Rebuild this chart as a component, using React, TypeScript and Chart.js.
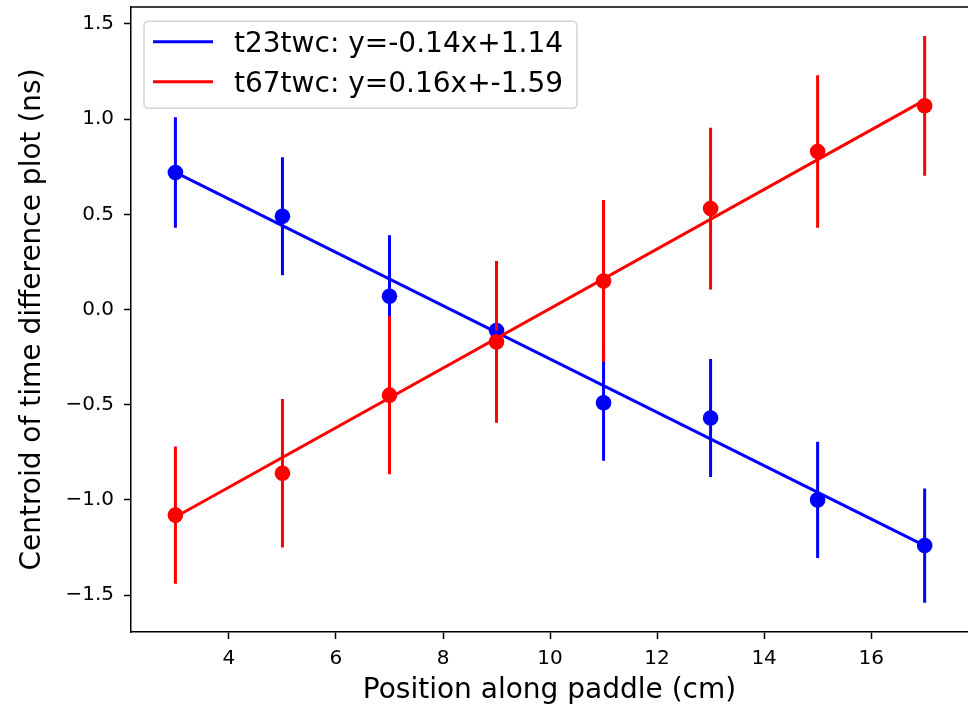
import { useEffect, useRef } from "react";
import { Chart, registerables } from "chart.js";

Chart.register(...registerables);

// ---- data ----
const positions = [3, 5, 7, 9, 11, 13, 15, 17];
const t23Centroid = [0.72, 0.49, 0.07, -0.11, -0.49, -0.57, -1.0, -1.24];
const t23Error = [0.29, 0.31, 0.32, 0.31, 0.305, 0.31, 0.305, 0.3];
const t67Centroid = [-1.08, -0.86, -0.45, -0.17, 0.15, 0.53, 0.83, 1.07];
const t67Error = [0.36, 0.39, 0.415, 0.425, 0.425, 0.425, 0.4, 0.367];
const fitX = [3, 17];
const t23Fit = [0.72, -1.24];
const t67Fit = [-1.09, 1.1];
const t23Label = "t23twc: y=-0.14x+1.14";
const t67Label = "t67twc: y=0.16x+-1.59";
const xTicks = [4, 6, 8, 10, 12, 14, 16];
const yTicks = [-1.5, -1.0, -0.5, 0.0, 0.5, 1.0, 1.5];
const xTitle = "Position along paddle (cm)";
const yTitle = "Centroid of time difference plot (ns)";

const BLUE = "#0000ff";
const RED = "#ff0000";
const FONT = "'DejaVu Sans', sans-serif";

const errorBarPlugin = {
  id: "errorBars",
  beforeDatasetDraw(chart: any, args: any) {
    const ds = chart.data.datasets[args.index];
    if (!ds.errors) return;
    const { ctx, chartArea, scales } = chart;
    const x = scales.x;
    const y = scales.y;
    ctx.save();
    ctx.beginPath();
    ctx.rect(chartArea.left, chartArea.top, chartArea.right - chartArea.left, chartArea.bottom - chartArea.top);
    ctx.clip();
    ctx.beginPath();
    ctx.strokeStyle = ds.backgroundColor;
    ctx.lineWidth = 3;
    ctx.lineCap = "butt";
    ds.data.forEach((p: any, i: number) => {
      const px = x.getPixelForValue(p.x);
      ctx.moveTo(px, y.getPixelForValue(p.y + ds.errors[i]));
      ctx.lineTo(px, y.getPixelForValue(p.y - ds.errors[i]));
    });
    ctx.stroke();
    ctx.restore();
  },
};

const framePlugin = {
  id: "frame",
  afterDraw(chart: any) {
    const { ctx, chartArea } = chart;
    ctx.save();
    ctx.strokeStyle = "#000";
    ctx.lineWidth = 1.5;
    ctx.beginPath();
    ctx.moveTo(chartArea.left - 0.75, chartArea.top);
    ctx.lineTo(chartArea.right + 2, chartArea.top);
    ctx.stroke();
    ctx.restore();
  },
};

const legendPlugin = {
  id: "mplLegend",
  afterDraw(chart: any) {
    const { ctx, chartArea } = chart;
    const entries = chart.data.datasets
      .filter((d: any) => d.legendIndex !== undefined)
      .sort((a: any, b: any) => a.legendIndex - b.legendIndex);
    const left = chartArea.left + 13;
    const top = chartArea.top + 14.3;
    const w = 433;
    const h = 87;
    const r = 5;
    ctx.save();
    ctx.beginPath();
    ctx.moveTo(left + r, top);
    ctx.lineTo(left + w - r, top);
    ctx.quadraticCurveTo(left + w, top, left + w, top + r);
    ctx.lineTo(left + w, top + h - r);
    ctx.quadraticCurveTo(left + w, top + h, left + w - r, top + h);
    ctx.lineTo(left + r, top + h);
    ctx.quadraticCurveTo(left, top + h, left, top + h - r);
    ctx.lineTo(left, top + r);
    ctx.quadraticCurveTo(left, top, left + r, top);
    ctx.closePath();
    ctx.fillStyle = "rgba(255,255,255,0.8)";
    ctx.fill();
    ctx.strokeStyle = "#d4d4d4";
    ctx.lineWidth = 1.5;
    ctx.stroke();
    entries.forEach((d: any, i: number) => {
      const cy = top + 20.5 + i * 40;
      ctx.beginPath();
      ctx.strokeStyle = d.borderColor;
      ctx.lineWidth = 3;
      ctx.moveTo(left + 9, cy);
      ctx.lineTo(left + 69, cy);
      ctx.stroke();
      ctx.fillStyle = "#000";
      ctx.font = `28px ${FONT}`;
      ctx.textAlign = "left";
      ctx.textBaseline = "alphabetic";
      ctx.fillText(d.label, left + 90, cy + 10.5);
    });
    ctx.restore();
  },
};

const fmtMinus = (s: string) => s.replace("-", "\u2212");

const zeroPad = (s: any) => {
  s.paddingTop = 0;
  s.paddingBottom = 0;
  s.paddingLeft = 0;
  s.paddingRight = 0;
};

export default function App() {
  const ref = useRef<HTMLCanvasElement | null>(null);

  useEffect(() => {
    if (!ref.current) return;
    const chart = new Chart(ref.current, {
      type: "scatter",
      data: {
        datasets: [
          {
            label: t67Label,
            data: fitX.map((x, i) => ({ x, y: t67Fit[i] })),
            showLine: true,
            borderColor: RED,
            backgroundColor: RED,
            borderWidth: 3,
            pointRadius: 0,
            order: 0,
            legendIndex: 1,
          } as any,
          {
            label: t23Label,
            data: fitX.map((x, i) => ({ x, y: t23Fit[i] })),
            showLine: true,
            borderColor: BLUE,
            backgroundColor: BLUE,
            borderWidth: 3,
            pointRadius: 0,
            order: 1,
            legendIndex: 0,
          } as any,
          {
            label: "t67twc data",
            data: positions.map((x, i) => ({ x, y: t67Centroid[i] })),
            errors: t67Error,
            showLine: false,
            backgroundColor: RED,
            borderColor: RED,
            pointRadius: 7.8,
            pointBorderWidth: 0,
            order: 2,
          } as any,
          {
            label: "t23twc data",
            data: positions.map((x, i) => ({ x, y: t23Centroid[i] })),
            errors: t23Error,
            showLine: false,
            backgroundColor: BLUE,
            borderColor: BLUE,
            pointRadius: 7.8,
            pointBorderWidth: 0,
            order: 3,
          } as any,
        ],
      },
      options: {
        animation: false,
        responsive: false,
        devicePixelRatio: 1,
        layout: { autoPadding: false, padding: { top: 7, left: 0, right: 0, bottom: 0 } },
        plugins: {
          legend: { display: false },
          tooltip: { enabled: false },
        },
        scales: {
          x: {
            type: "linear",
            min: 2.17,
            max: 17.81,
            afterBuildTicks: (s: any) => {
              s.ticks = xTicks.map((v) => ({ value: v }));
            },
            afterFit: (s: any) => {
              s.height = 75;
              zeroPad(s);
            },
            grid: {
              display: true,
              drawOnChartArea: false,
              drawTicks: true,
              tickLength: 7,
              tickWidth: 1.5,
              tickColor: "#000",
            },
            border: { display: true, color: "#000", width: 1.5 },
            ticks: {
              autoSkip: false,
              maxRotation: 0,
              padding: 8,
              color: "#000",
              font: { family: FONT, size: 20 },
              callback: (v: any) => fmtMinus(String(v)),
            },
            title: {
              display: true,
              text: xTitle,
              color: "#000",
              font: { family: FONT, size: 28 },
              padding: { top: 0, bottom: -1 },
            },
          },
          y: {
            type: "linear",
            min: -1.694,
            max: 1.589,
            afterBuildTicks: (s: any) => {
              s.ticks = yTicks.map((v) => ({ value: v }));
            },
            afterFit: (s: any) => {
              s.width = 131;
              zeroPad(s);
            },
            grid: {
              display: true,
              drawOnChartArea: false,
              drawTicks: true,
              tickLength: 7,
              tickWidth: 1.5,
              tickColor: "#000",
            },
            border: { display: true, color: "#000", width: 1.5 },
            ticks: {
              autoSkip: false,
              padding: 10,
              color: "#000",
              font: { family: FONT, size: 20 },
              callback: (v: any) => fmtMinus(Number(v).toFixed(1)),
            },
            title: {
              display: true,
              text: yTitle,
              color: "#000",
              font: { family: FONT, size: 28 },
              padding: { top: 15.5, bottom: 0 },
            },
          },
        },
      } as any,
      plugins: [errorBarPlugin, framePlugin, legendPlugin],
    });
    return () => chart.destroy();
  }, []);

  return (
    <canvas
      ref={ref}
      width={968}
      height={707}
      style={{ position: "absolute", left: 0, top: 0, width: 968, height: 707, display: "block" }}
    />
  );
}
